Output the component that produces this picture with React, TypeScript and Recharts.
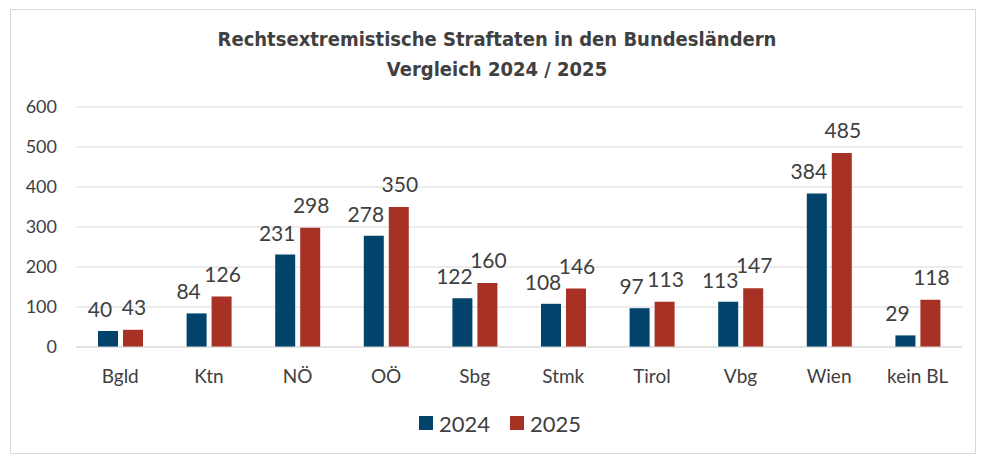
import React from 'react';
import { BarChart, Bar, XAxis, YAxis, CartesianGrid, Legend, LabelList } from 'recharts';

const categories = ['Bgld', 'Ktn', 'NÖ', 'OÖ', 'Sbg', 'Stmk', 'Tirol', 'Vbg', 'Wien', 'kein BL'];
const values2024 = [40, 84, 231, 278, 122, 108, 97, 113, 384, 29];
const values2025 = [43, 126, 298, 350, 160, 146, 113, 147, 485, 118];
const yTicks = [0, 100, 200, 300, 400, 500, 600];
const titleLines = ['Rechtsextremistische Straftaten in den Bundesländern', 'Vergleich 2024 / 2025'];

const data = categories.map((c, i) => ({ name: c, y2024: values2024[i], y2025: values2025[i] }));

const BLUE = '#01436A';
const RED = '#A83126';
const TEXT = '#404040';
const FONT = 'Lato, "Open Sans", sans-serif';

const LegendContent = (props: any) => {
  const payload = props.payload || [];
  return (
    <div style={{ display: 'flex', justifyContent: 'center', alignItems: 'center', height: 30, fontFamily: FONT, paddingLeft: 38 }}>
      {payload.map((p: any) => (
        <div key={p.value} style={{ display: 'flex', alignItems: 'center', margin: '0 10px' }}>
          <div style={{ width: 14, height: 14, background: p.color, marginRight: 6 }} />
          <span style={{ fontSize: 22, color: TEXT }}>{p.value}</span>
        </div>
      ))}
    </div>
  );
};

export default function App() {
  return (
    <div style={{ position: 'absolute', left: 0, top: 0, width: 982, height: 455, background: '#fff' }}>
      <div style={{ position: 'absolute', left: 10, top: 9, width: 964, height: 443, border: '1px solid #d9d9d9' }} />
      <div
        style={{
          position: 'absolute',
          left: 0,
          width: 994,
          top: 24,
          textAlign: 'center',
          fontFamily: '"DejaVu Sans Condensed", "Liberation Sans Narrow", Lato, sans-serif',
          fontStretch: 'condensed',
          fontWeight: 700,
          fontSize: 20,
          lineHeight: '30px',
          color: '#404040',
        }}
      >
        {titleLines.map((t) => (
          <div key={t}>{t}</div>
        ))}
      </div>
      <div style={{ position: 'absolute', left: 0, top: 0 }}>
        <BarChart
          width={982}
          height={455}
          data={data}
          margin={{ top: 107, right: 20, left: 0, bottom: 17 }}
          barSize={20}
          barGap={5}
        >
          <CartesianGrid vertical={false} stroke="#d9d9d9" strokeWidth={1} />
          <XAxis
            dataKey="name"
            height={61}
            tickLine={false}
            axisLine={{ stroke: '#d9d9d9' }}
            tickMargin={17}
            tick={{ fill: TEXT, fontSize: 19, fontFamily: FONT }}
            interval={0}
          />
          <YAxis
            width={76}
            domain={[0, 600]}
            ticks={yTicks}
            tickLine={false}
            axisLine={false}
            tickMargin={13}
            tick={{ fill: TEXT, fontSize: 18, fontFamily: FONT }}
          />
          <Legend verticalAlign="bottom" content={<LegendContent />} />
          <Bar dataKey="y2024" name="2024" fill={BLUE} isAnimationActive={false}>
            <LabelList dataKey="y2024" position="top" offset={14} dx={-8} fill={TEXT} fontSize={21} fontFamily={FONT} />
          </Bar>
          <Bar dataKey="y2025" name="2025" fill={RED} isAnimationActive={false}>
            <LabelList dataKey="y2025" position="top" offset={15} dx={1} fill={TEXT} fontSize={21} fontFamily={FONT} />
          </Bar>
        </BarChart>
      </div>
    </div>
  );
}
